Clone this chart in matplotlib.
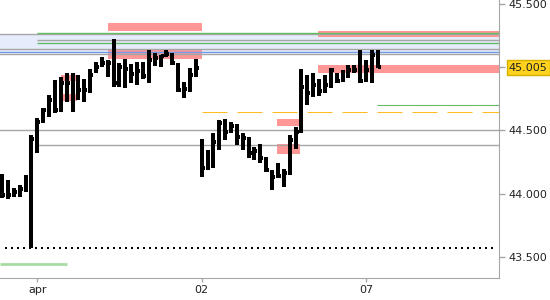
import numpy as np
import matplotlib
matplotlib.use("Agg")
import matplotlib.pyplot as plt
from matplotlib.patches import Rectangle

# bar index 0 = "apr"
bar_idx = np.arange(-6, 59)
highs = [44.155, 44.107, 44.046, 44.068, 44.147, 44.464,
         44.596, 44.675, 44.781, 44.900, 44.926, 44.957, 44.953, 44.939, 44.905, 44.984,
         45.042, 45.080, 45.058, 45.225, 45.032, 45.064, 45.026, 45.040, 45.042, 45.137,
         45.116, 45.098, 45.137, 45.116, 45.037, 44.886, 44.992, 45.064,
         44.430, 44.345, 44.477, 44.583, 44.591, 44.564, 44.551, 44.477, 44.446, 44.371,
         44.392, 44.292, 44.186, 44.244, 44.194, 44.464, 44.525, 44.984, 44.939, 44.953,
         44.905, 44.939, 44.992, 44.953, 44.979, 45.018, 45.018, 45.137, 45.058, 45.137, 45.137]
lows = [43.962, 43.954, 43.975, 43.975, 44.015, 43.571,
        44.319, 44.561, 44.609, 44.636, 44.648, 44.728, 44.648, 44.741, 44.728, 44.794,
        44.953, 45.000, 44.926, 44.842, 44.847, 44.834, 44.873, 44.860, 44.905, 44.878,
        45.011, 45.000, 45.080, 45.018, 44.807, 44.760, 44.807, 44.926,
        44.133, 44.186, 44.205, 44.345, 44.424, 44.477, 44.385, 44.345, 44.284, 44.266,
        44.240, 44.168, 44.028, 44.125, 44.054, 44.147, 44.353, 44.482, 44.701, 44.767,
        44.773, 44.794, 44.834, 44.873, 44.886, 44.913, 44.957, 44.878, 44.886, 44.878, 44.992]
closes = [43.988, 43.988, 44.015, 44.036, 44.102, 44.430,
          44.569, 44.662, 44.741, 44.660, 44.878, 44.873, 44.781, 44.820, 44.820, 44.939,
          45.000, 45.032, 45.032, 44.878, 45.000, 44.984, 44.947, 44.973, 44.931, 45.058,
          45.074, 45.090, 45.106, 45.032, 44.820, 44.826, 44.939, 44.992,
          44.200, 44.292, 44.411, 44.557, 44.490, 44.535, 44.446, 44.438, 44.319, 44.337,
          44.282, 44.186, 44.133, 44.139, 44.165, 44.424, 44.490, 44.842, 44.794, 44.860,
          44.815, 44.860, 44.979, 44.894, 44.913, 44.979, 44.979, 44.890, 44.979, 45.098, 45.005]

date_ticks = [0, 28, 56]
date_labels = ["apr", "02", "07"]
price_ticks = [43.5, 44.0, 44.5, 45.5]
last_price = 45.005

x_min, x_max = -6.35, 78.65
y_min, y_max = 43.331, 45.5335

# horizontal levels
band = (45.110, 45.268)
full_gray = [45.264, 45.143, 45.104, 44.503]
full_blue = [45.120]
gray_from_apr = [45.217, 44.385]
green_from_apr = [45.270, 45.190]
orange_level = 44.644
orange_start = 28
green_short = (57.8, 44.701)
dotted_level = 43.571
light_green = (-6.35, 5.0, 43.439)

# supply/demand zones: start, end, low, high
zones = [(12.1, 28.0, 45.290, 45.354),
         (12.1, 28.0, 45.068, 45.143),
         (47.8, x_max, 45.243, 45.288),
         (47.8, x_max, 44.957, 45.018),
         (40.8, 44.75, 44.537, 44.591),
         (40.8, 44.75, 44.311, 44.392),
         (4.05, 6.75, 44.892, 44.939),
         (4.05, 6.75, 44.733, 44.789)]

fig = plt.figure(figsize=(5.5, 3), dpi=100)
ax = fig.add_axes([0, 0.0733, 0.9073, 0.9267])
ax.set_xlim(x_min, x_max)
ax.set_ylim(y_min, y_max)

ax.axhspan(band[0], band[1], color="#e6ecfb", lw=0, zorder=0)
for z in zones:
    ax.add_patch(Rectangle((z[0], z[2]), z[1] - z[0], z[3] - z[2],
                           facecolor="#ff9797", edgecolor="none", zorder=1))

for lv in full_gray:
    ax.axhline(lv, color="#a6a6a6", lw=1, zorder=2)
for lv in full_blue:
    ax.axhline(lv, color="#6f9be8", lw=1, zorder=2)
ax.hlines(gray_from_apr, 0, x_max, color="#a6a6a6", lw=1, zorder=2)
ax.hlines(green_from_apr, 0, x_max, color="#66bb66", lw=1, zorder=2)
ax.plot([orange_start, x_max], [orange_level] * 2, color="#ffbb22", lw=0.75,
        linestyle=(0, (24, 9.6)), zorder=2)
ax.hlines(green_short[1], green_short[0], x_max, color="#66bb66", lw=0.8, zorder=2)
ax.plot([-5.5, 78.0], [dotted_level] * 2, color="black", lw=1.44,
        linestyle=(0, (1, 2.35)), antialiased=False, zorder=2)
ax.hlines(light_green[2], light_green[0], light_green[1], color="#a8dca6", lw=2, zorder=2)

# bars: high-low line with close tick on the right
ax.vlines(bar_idx, lows, highs, color="black", lw=1.6, antialiased=False, zorder=3)
ax.hlines(closes, bar_idx, bar_idx + 0.5, color="black", lw=1.6,
          antialiased=False, zorder=3)

for s in ["top", "left"]:
    ax.spines[s].set_visible(False)
for s in ["right", "bottom"]:
    ax.spines[s].set_color("#a6a6a6")

ax.yaxis.tick_right()
ax.set_yticks(price_ticks + [last_price])
ax.set_yticklabels([f"{v:.3f}" for v in price_ticks] + [f"{last_price:.3f}"])
ax.tick_params(axis="y", length=4, width=1, color="#a6a6a6", labelsize=8,
               labelcolor="#222222", pad=3)
last_tick = ax.yaxis.get_major_ticks()[-1]
last_tick.tick2line.set_color("black")
last_tick.label2.set_bbox(dict(facecolor="#ffd21f", edgecolor="#d4b000",
                               boxstyle="square,pad=0.2", lw=1))

ax.set_xticks(date_ticks)
ax.set_xticklabels(date_labels)
ax.tick_params(axis="x", length=3, width=1, color="#a6a6a6", labelsize=8,
               labelcolor="#222222", pad=2)

fig.savefig("out.png", dpi=100)
